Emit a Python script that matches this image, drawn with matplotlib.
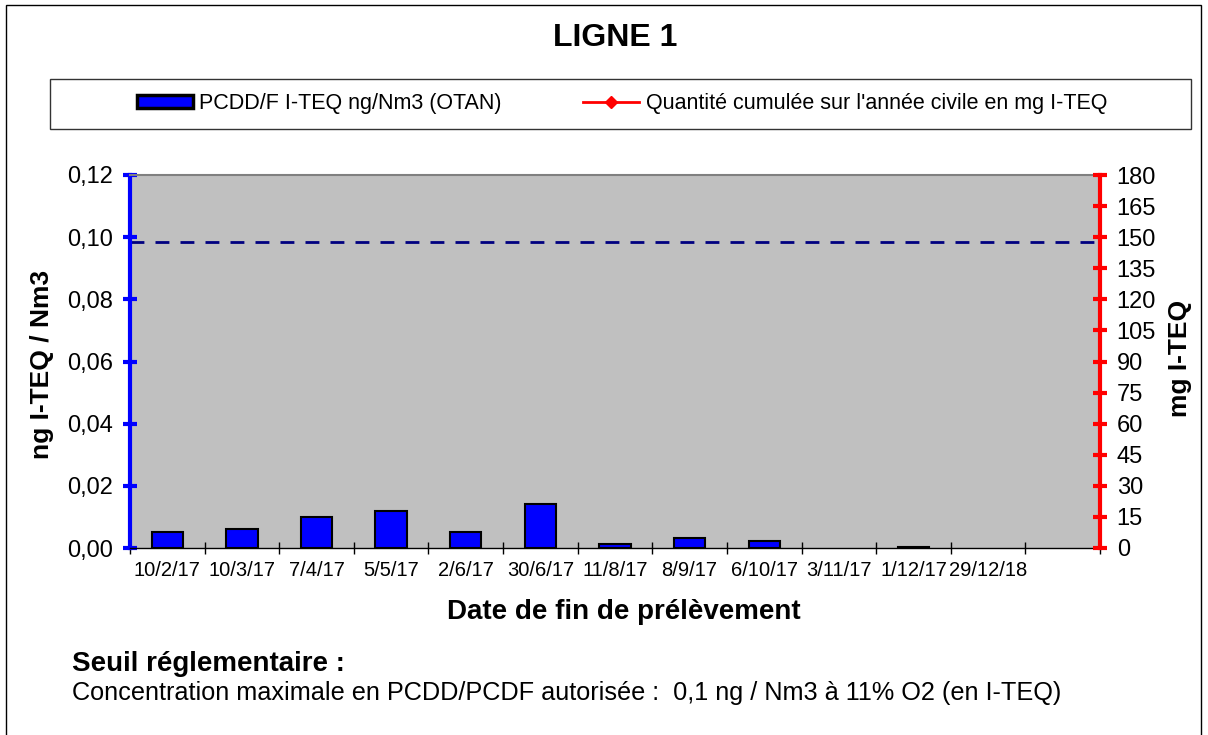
import numpy as np
import matplotlib
matplotlib.use("Agg")
import matplotlib.pyplot as plt
from matplotlib.patches import Rectangle
from matplotlib.lines import Line2D

plt.rcParams['font.family'] = ['Liberation Sans', 'DejaVu Sans']

dates = ['10/2/17', '10/3/17', '7/4/17', '5/5/17', '2/6/17', '30/6/17', '11/8/17',
         '8/9/17', '6/10/17', '3/11/17', '1/12/17', '29/12/18', '']
pcdd = [0.0052, 0.0061, 0.0101, 0.0120, 0.0052, 0.0140, 0.0012,
        0.0031, 0.0022, np.nan, 0.0004, np.nan, np.nan]
cumul = [np.nan, np.nan, np.nan, np.nan, np.nan, np.nan, np.nan,
         np.nan, np.nan, np.nan, np.nan, np.nan, np.nan]
seuil = 0.0985
left_ticks = [0.0, 0.02, 0.04, 0.06, 0.08, 0.10, 0.12]
right_ticks = [0, 15, 30, 45, 60, 75, 90, 105, 120, 135, 150, 165, 180]

fig = plt.figure(figsize=(12.08, 7.35), dpi=100)
ax = fig.add_axes([130 / 1208, 1 - 548 / 735, 970 / 1208, 373 / 735])
ax.set_facecolor('#C0C0C0')

x = np.arange(len(dates))
ax.bar(x, pcdd, width=0.42, color='#0000FF', edgecolor='black', linewidth=1.5, zorder=3)
ax.axhline(seuil, color='#000080', linestyle=(0, (5, 4)), linewidth=2, zorder=2)
ax.set_xlim(-0.5, len(dates) - 0.5)
ax.set_ylim(0, 0.12)

# x axis: labels at centres, marks at category borders
ax.set_xticks(x)
ax.set_xticklabels(dates, fontsize=14.5)
ax.tick_params(axis='x', which='major', length=0, pad=9)
ax.set_xticks(np.arange(-0.5, len(dates), 1), minor=True)
ax.tick_params(axis='x', which='minor', direction='inout', length=8, width=1, color='black')

ax.set_yticks(left_ticks)
ax.set_yticklabels([('%.2f' % v).replace('.', ',') for v in left_ticks], fontsize=17)
ax.tick_params(axis='y', direction='inout', length=10, width=3, color='#0000FF', pad=7)

ax.spines['left'].set_color('#0000FF')
ax.spines['left'].set_linewidth(3)
ax.spines['top'].set_color('#808080')
ax.spines['top'].set_linewidth(1.5)
ax.spines['bottom'].set_color('black')
ax.spines['bottom'].set_linewidth(1)
ax.spines['right'].set_visible(False)

ax2 = ax.twinx()
ax2.plot(x, cumul, color='red', marker='D', markersize=6, linewidth=2)
ax2.set_ylim(0, 180)
ax2.set_yticks(right_ticks)
ax2.set_yticklabels([str(v) for v in right_ticks], fontsize=17)
ax2.tick_params(axis='y', direction='inout', length=10, width=3, color='red', pad=7)
ax2.spines['right'].set_color('red')
ax2.spines['right'].set_linewidth(3)
for s in ['left', 'top', 'bottom']:
    ax2.spines[s].set_visible(False)

# labels
fig.text(615 / 1208, 1 - 38 / 735, 'LIGNE 1', fontsize=23, fontweight='bold',
         ha='center', va='center')
fig.text(624 / 1208, 1 - 612 / 735, 'Date de fin de prélèvement', fontsize=20,
         fontweight='bold', ha='center', va='center')
fig.text(42 / 1208, 1 - 364 / 735, 'ng I-TEQ / Nm3', fontsize=19, fontweight='bold',
         ha='center', va='center', rotation=90)
fig.text(1180 / 1208, 1 - 358 / 735, 'mg I-TEQ', fontsize=19, fontweight='bold',
         ha='center', va='center', rotation=90)
fig.text(72 / 1208, 1 - 664 / 735, 'Seuil réglementaire :', fontsize=20,
         fontweight='bold', ha='left', va='center')
fig.text(72 / 1208, 1 - 693 / 735,
         'Concentration maximale en PCDD/PCDF autorisée :  0,1 ng / Nm3 à 11% O2 (en I-TEQ)',
         fontsize=18.2, ha='left', va='center')

# legend
fig.patches.append(Rectangle((50 / 1208, 1 - 129 / 735), 1141 / 1208, 50 / 735,
                             transform=fig.transFigure, fill=False,
                             edgecolor='#333333', linewidth=1))
handles = [Rectangle((0, 0), 1, 1, facecolor='#0000FF', edgecolor='black', linewidth=2.5),
           Line2D([], [], color='red', marker='D', markersize=6, linewidth=2)]
fig.legend(handles, ['PCDD/F I-TEQ ng/Nm3 (OTAN)',
                     "Quantité cumulée sur l'année civile en mg I-TEQ"],
           loc='center', bbox_to_anchor=(622 / 1208, 1 - 104 / 735), ncol=2,
           frameon=False, fontsize=15.5, columnspacing=3.8, handlelength=2.6,
           handletextpad=0.3, handleheight=0.55)

# outer border
fig.patches.append(Rectangle((6 / 1208, -0.01), 1195 / 1208, 1.01 - 5 / 735,
                             transform=fig.transFigure, fill=False,
                             edgecolor='black', linewidth=1))

fig.savefig('out.png', dpi=100)
